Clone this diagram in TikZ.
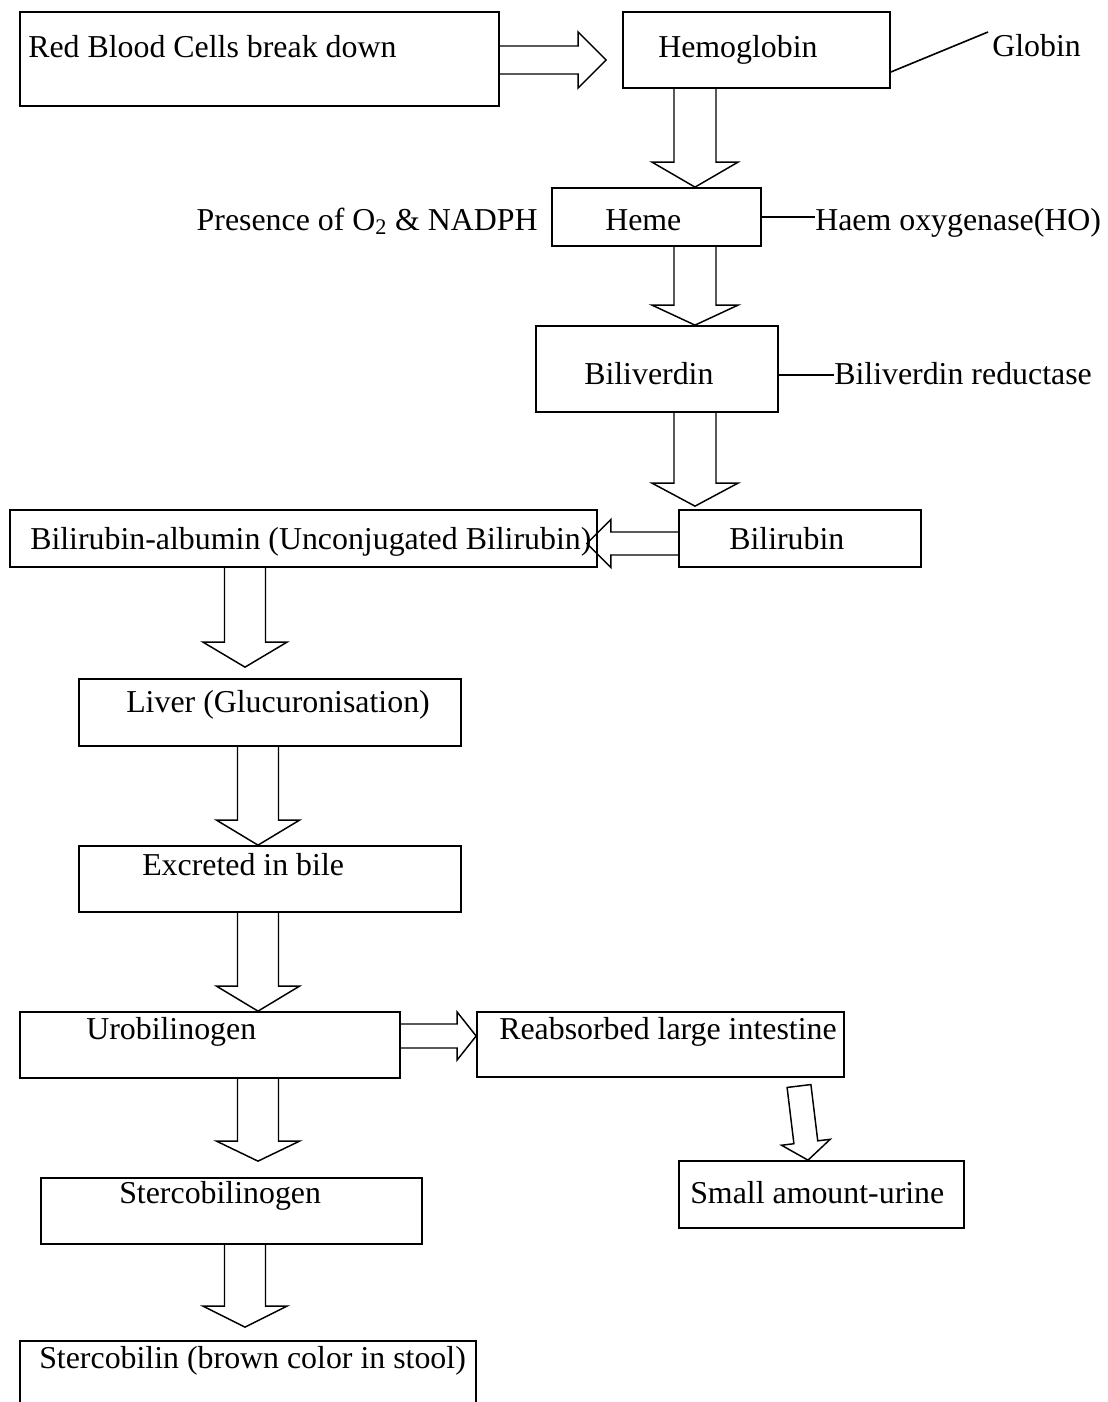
\documentclass[tikz,border=0pt]{standalone}
\usepackage{fontspec}
\setmainfont{Liberation Serif}
\usetikzlibrary{calc,fit}
\tikzset{
  box/.style={draw, line width=1.3pt, inner sep=0pt, rectangle},
  txt/.style={inner sep=0pt, font=\fontsize{23.9}{28}\selectfont},
  blkarrow/.style={draw, line width=1.1pt, line join=miter},
  ln/.style={draw, line width=1.2pt}
}
% generic block arrow: start, tip, head length, shaft half width, head half width (all px)
\newcommand\blk[5]{%
  \coordinate (bs) at #1;
  \coordinate (bt) at #2;
  \coordinate (bb) at ($(bt)!#3*0.75pt!(bs)$);
  \draw[blkarrow] ($(bs)!#4*0.75pt!90:(bt)$) -- ($(bb)!#4*0.75pt!90:(bt)$) -- ($(bb)!#5*0.75pt!90:(bt)$) -- (bt)
    -- ($(bb)!#5*0.75pt!-90:(bt)$) -- ($(bb)!#4*0.75pt!-90:(bt)$) -- ($(bs)!#4*0.75pt!-90:(bt)$);
}
% closed variant (free-standing arrow)
\newcommand\blkc[5]{%
  \coordinate (bs) at #1;
  \coordinate (bt) at #2;
  \coordinate (bb) at ($(bt)!#3*0.75pt!(bs)$);
  \draw[blkarrow] ($(bs)!#4*0.75pt!90:(bt)$) -- ($(bb)!#4*0.75pt!90:(bt)$) -- ($(bb)!#5*0.75pt!90:(bt)$) -- (bt)
    -- ($(bb)!#5*0.75pt!-90:(bt)$) -- ($(bb)!#4*0.75pt!-90:(bt)$) -- ($(bs)!#4*0.75pt!-90:(bt)$) -- cycle;
}
\begin{document}
\begin{tikzpicture}[x=0.75pt,y=-0.75pt]
\useasboundingbox (0,0) rectangle (1107,1402);
% boxes
\node[box, fit={(20,12) (499,106)}] (rbc) {};
\node[box, fit={(623,12) (890,88)}] (hb) {};
\node[box, fit={(552,188) (761,246)}] (he) {};
\node[box, fit={(536,326) (778,412)}] (bv) {};
\node[box, fit={(679,510) (921,567)}] (br) {};
\node[box, fit={(10,510) (597,567)}] (ba) {};
\node[box, fit={(79,679) (461,746)}] (lv) {};
\node[box, fit={(79,846) (461,912)}] (bi) {};
\node[box, fit={(20,1012) (400,1078)}] (ur) {};
\node[box, fit={(477,1012) (844,1077)}] (ra) {};
\node[box, fit={(679,1161) (964,1228)}] (sa) {};
\node[box, fit={(41,1178) (422,1244)}] (sg) {};
\node[box, fit={(20,1341) (476,1430)}] (sb) {};
% texts
\node[txt, anchor=base west] (rbct) at (28,58) {Red Blood Cells break down};
\node[txt, anchor=base west] (hbt) at (658,58) {Hemoglobin};
\node[txt, anchor=base west] (glt) at (992,57) {Globin};
\node[txt, anchor=base east] (prt) at (538,230) {Presence of O\textsubscript{2} \& NADPH};
\node[txt, anchor=base west] (het) at (605,230) {Heme};
\node[txt, anchor=base west] (hot) at (815,230) {Haem oxygenase(HO)};
\node[txt, anchor=base west] (bvt) at (584,384) {Biliverdin};
\node[txt, anchor=base west] (bvr) at (834,384) {Biliverdin reductase};
\node[txt, anchor=base west] (brt) at (729,549) {Bilirubin};
\node[txt, anchor=base west] (bat) at (30,549) {Bilirubin-albumin (Unconjugated Bilirubin)};
\node[txt, anchor=base west] (lvt) at (126,712) {Liver (Glucuronisation)};
\node[txt, anchor=base west] (bit) at (142,875) {Excreted in bile};
\node[txt, anchor=base west] (urt) at (86,1039) {Urobilinogen};
\node[txt, anchor=base west] (rat) at (499,1039) {Reabsorbed large intestine};
\node[txt, anchor=base west] (sat) at (690,1203) {Small amount-urine};
\node[txt, anchor=base west] (sgt) at (119,1203) {Stercobilinogen};
\node[txt, anchor=base west] (sbt) at (39,1368) {Stercobilin (brown color in stool)};
% plain connector lines
\coordinate (gl) at (988,32);
\draw[ln] (hb.east |- 0,72) -- (gl);
\draw[ln] (he.east |- 0,217) -- (hot.west |- 0,217);
\draw[ln] (bv.east |- 0,375) -- (bvr.west |- 0,375);
% block arrows
\blk{(rbc.east |- 0,60)}{($(hb.west |- 0,60)+(-16,0)$)}{28}{14}{28}
\blk{(695,0 |- hb.south)}{(695,0 |- he.north)}{25}{21}{43}
\blk{(695,0 |- he.south)}{(695,0 |- bv.north)}{20}{21}{43}
\blk{(695,0 |- bv.south)}{($(695,0 |- br.north)+(0,-3)$)}{23}{21}{43}
\blk{(br.west |- 0,543.5)}{($(ba.east |- 0,543.5)+(-11,0)$)}{24}{11.5}{24}
\blk{(245,0 |- ba.south)}{($(245,0 |- lv.north)+(0,-11)$)}{25}{20.5}{42}
\blk{(258,0 |- lv.south)}{(258,0 |- bi.north)}{25}{20.5}{41.5}
\blk{(258,0 |- bi.south)}{(258,0 |- ur.north)}{25}{20.5}{41.5}
\blk{(ur.east |- 0,1036)}{(ra.west |- 0,1036)}{19}{12}{24}
\coordinate (rs) at (799,1086);
\blkc{(rs)}{(808,0 |- sa.north)}{18}{12}{24.5}
\blk{(258,0 |- ur.south)}{($(258,0 |- sg.north)+(0,-16)$)}{20}{20.5}{41.5}
\blk{(245,0 |- sg.south)}{($(245,0 |- sb.north)+(0,-13)$)}{21}{20.5}{42}
\end{tikzpicture}
\end{document}
